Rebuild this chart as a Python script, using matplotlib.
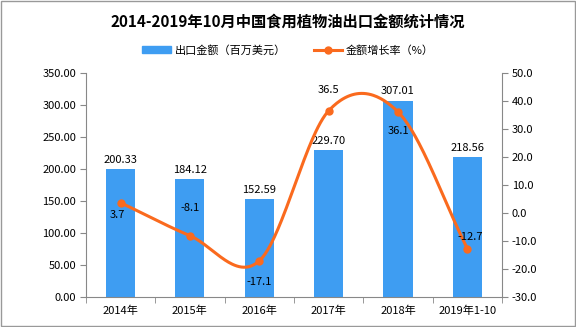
import matplotlib.pyplot as plt
import numpy as np
from matplotlib.patches import Rectangle
from matplotlib.lines import Line2D

plt.rcParams['font.family'] = ['Noto Sans CJK SC', 'DejaVu Sans']

# data
years = ['2014年', '2015年', '2016年', '2017年', '2018年', '2019年1-10']
export_value = [200.33, 184.12, 152.59, 229.70, 307.01, 218.56]
growth_rate = [3.7, -8.1, -17.1, 36.5, 36.1, -12.7]

# label offsets (points) for the growth labels
rate_offsets = [(-2, -9), (0, 20), (0, -15), (0, 15), (0, -14), (2, 8)]

bar_color = '#3E9DF2'
line_color = '#FA6A1E'
axis_color = '#888888'


def smooth_curve(x, y, steps=60):
    # Catmull-Rom style smoothing, only used to draw the line
    x = np.asarray(x, float)
    y = np.asarray(y, float)
    k = len(y)
    m = np.empty(k)
    m[1:-1] = (y[2:] - y[:-2]) / 2
    m[0] = y[1] - y[0]
    m[-1] = y[-1] - y[-2]
    xs, ys = [], []
    t = np.linspace(0, 1, steps)
    h00 = 2 * t ** 3 - 3 * t ** 2 + 1
    h10 = t ** 3 - 2 * t ** 2 + t
    h01 = -2 * t ** 3 + 3 * t ** 2
    h11 = t ** 3 - t ** 2
    for i in range(k - 1):
        xs.append(x[i] + t * (x[i + 1] - x[i]))
        ys.append(h00 * y[i] + h10 * m[i] + h01 * y[i + 1] + h11 * m[i + 1])
    return np.concatenate(xs), np.concatenate(ys)


fig = plt.figure(figsize=(5.76, 3.27), dpi=100)
ax = fig.add_axes([0.149, 0.0917, 0.7226, 0.6851])
ax2 = ax.twinx()

x = np.arange(len(years))
bars = ax.bar(x, export_value, width=0.42, color=bar_color, zorder=2)
ax.set_xlim(-0.5, len(years) - 0.5)
ax.set_ylim(0, 350)
ax.set_yticks(np.arange(0, 351, 50))
ax.set_yticklabels([f'{v:.2f}' for v in np.arange(0, 351, 50)])
ax.set_xticks(x)
ax.set_xticklabels(years)
ax.set_xticks(np.arange(-0.5, len(years), 1), minor=True)
ax.tick_params(axis='x', which='major', length=0, pad=6, labelsize=8)
ax.tick_params(axis='x', which='minor', length=4, color=axis_color)
ax.tick_params(axis='y', length=4, color=axis_color, labelsize=8, pad=3)

for b, v in zip(bars, export_value):
    ax.annotate(f'{v:.2f}', (b.get_x() + b.get_width() / 2, v),
                xytext=(0, 3), textcoords='offset points',
                ha='center', va='bottom', fontsize=8)

xs, ys = smooth_curve(x, growth_rate)
ax2.plot(xs, ys, color=line_color, lw=2.2, zorder=3)
ax2.plot(x, growth_rate, 'o', color=line_color, ms=5, zorder=4)
ax2.set_ylim(-30, 50)
ax2.set_yticks(np.arange(-30, 51, 10))
ax2.set_yticklabels([f'{v:.1f}' for v in np.arange(-30, 51, 10)])
ax2.tick_params(axis='y', length=4, color=axis_color, labelsize=8, pad=3)

for xi, v, off in zip(x, growth_rate, rate_offsets):
    ax2.annotate(f'{v}', (xi, v), xytext=off, textcoords='offset points',
                 ha='center', va='center', fontsize=8)

for a in (ax, ax2):
    a.spines['top'].set_visible(False)
    for s in ('left', 'right', 'bottom'):
        a.spines[s].set_color(axis_color)
ax.spines['right'].set_visible(False)
ax2.spines['left'].set_visible(False)
ax2.spines['bottom'].set_visible(False)

fig.text(0.5, 0.935, '2014-2019年10月中国食用植物油出口金额统计情况',
         ha='center', va='center', fontsize=11, fontweight='bold')

handles = [Rectangle((0, 0), 1, 1, color=bar_color),
           Line2D([0], [0], color=line_color, lw=2.2, marker='o', ms=5)]
fig.legend(handles, ['出口金额（百万美元）', '金额增长率（%）'],
           loc='center', bbox_to_anchor=(0.5, 1 - 50 / 327), ncol=2,
           frameon=False, fontsize=8, handlelength=2.6, handleheight=0.5,
           columnspacing=2.5, handletextpad=0.3)

fig.patches.append(Rectangle((0.001, 0.002), 0.997, 0.996, transform=fig.transFigure,
                             fill=False, edgecolor='#999999', lw=1))

fig.savefig('out.png', dpi=100)
